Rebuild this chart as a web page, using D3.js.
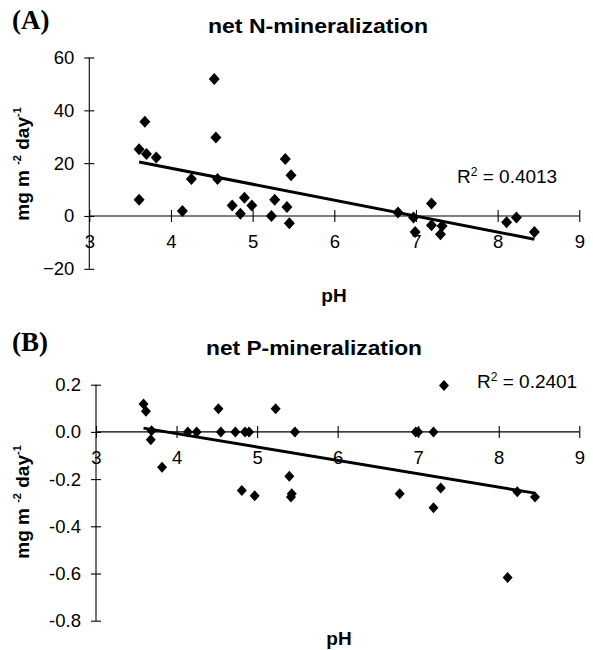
<!DOCTYPE html>
<html>
<head>
<meta charset="utf-8">
<script src="https://cdn.jsdelivr.net/npm/d3@7"></script>
<style>
  body { margin: 0; background: #fff; }
  svg text { font-family: "Liberation Sans", Arial, sans-serif; fill: #000; }
</style>
</head>
<body>
<svg id="chart" width="593" height="650"></svg>
<script>
/*********************
	Data
**********************/
// panel A : net N-mineralization (pH, mg m-2 day-1)
var n_ph  = [3.61, 3.68, 3.70, 3.82, 3.61, 4.14, 4.25, 4.53, 4.55, 4.57, 4.75, 4.85, 4.90, 4.99,
             5.23, 5.27, 5.40, 5.42, 5.45, 5.47, 6.78, 6.97, 6.99, 7.19, 7.19, 7.30, 7.32, 8.11, 8.23, 8.45];
var n_val = [25.3, 35.7, 23.5, 22.1, 6.1, 1.9, 14.0, 51.9, 29.7, 14.0, 4.0, 0.8, 6.9, 4.0,
             0.0, 6.1, 21.6, 3.4, -2.8, 15.4, 1.3, -0.6, -6.1, 4.7, -3.5, -6.9, -3.8, -2.4, -0.6, -6.1];
var n_ticks = [-20, 0, 20, 40, 60];

// panel B : net P-mineralization
var p_ph  = [3.59, 3.62, 3.69, 3.68, 3.82, 4.14, 4.25, 4.52, 4.55, 4.73, 4.85, 4.90, 5.23, 5.47,
             4.81, 4.97, 5.40, 5.43, 5.42, 7.32, 6.97, 7.00, 7.19, 6.77, 7.28, 7.19, 8.23, 8.45, 8.11];
var p_val = [0.118, 0.087, 0.005, -0.033, -0.150, 0.0, 0.0, 0.098, 0.0, 0.0, 0.0, 0.0, 0.098, 0.0,
             -0.248, -0.271, -0.188, -0.262, -0.276, 0.197, 0.0, 0.0, 0.0, -0.262, -0.238, -0.321, -0.254, -0.276, -0.617];
var p_ticks = [-0.8, -0.6, -0.4, -0.2, 0.0, 0.2];

var ph_ticks = [3, 4, 5, 6, 7, 8, 9];

/*********************
	Helpers
**********************/
var svg = d3.select("#chart");

function fitLine(xs, ys){
	// ordinary least squares
	var mx = d3.mean(xs), my = d3.mean(ys);
	var sxy = 0, sxx = 0;
	for (var i = 0; i < xs.length; i++){
		sxy += (xs[i]-mx)*(ys[i]-my);
		sxx += (xs[i]-mx)*(xs[i]-mx);
	}
	var b = sxy/sxx;
	return {slope: b, icpt: my - b*mx};
}

function diamond(w, h){
	return "M0," + (-h) + "L" + w + ",0L0," + h + "L" + (-w) + ",0Z";
}

function drawPanel(cfg){
	var x = d3.scaleLinear().domain([3, 9]).range(cfg.xr);
	var y = d3.scaleLinear().domain(cfg.yd).range(cfg.yr);
	var g = svg.append("g");

	// y axis
	var ya = g.append("g").attr("transform", "translate(" + x(3) + ",0)")
		.call(d3.axisLeft(y).tickValues(cfg.yticks).tickFormat(cfg.yfmt).tickSize(5).tickPadding(10));
	ya.selectAll(".tick line").attr("x1", 5);
	ya.select(".domain").attr("d", "M0," + y(cfg.yd[0]) + "V" + y(cfg.yd[1]));
	ya.selectAll("text").style("font-size", "18.5px").attr("font-family", null);

	// x axis at y = 0
	var xa = g.append("g").attr("transform", "translate(0," + y(0) + ")")
		.call(d3.axisBottom(x).tickValues(ph_ticks).tickFormat(d3.format("d")).tickSize(6).tickPadding(13));
	xa.selectAll(".tick line").attr("y1", -6);
	xa.select(".domain").attr("d", "M" + x(3) + ",0H" + x(9));
	xa.selectAll("text").style("font-size", "18.5px").attr("font-family", null);
	g.selectAll(".domain, .tick line").attr("stroke", "#000").attr("stroke-width", 1.1);

	// trend line
	var f = fitLine(cfg.xs, cfg.ys);
	var ext = d3.extent(cfg.xs);
	g.append("line")
		.attr("x1", x(ext[0])).attr("y1", y(f.icpt + f.slope*ext[0]))
		.attr("x2", x(ext[1])).attr("y2", y(f.icpt + f.slope*ext[1]))
		.attr("stroke", "#000").attr("stroke-width", 3);

	// points
	g.selectAll("path.pt").data(cfg.xs).enter().append("path")
		.attr("class", "pt")
		.attr("d", diamond(cfg.mw, cfg.mh))
		.attr("transform", function(d, i){ return "translate(" + x(d) + "," + y(cfg.ys[i]) + ")"; })
		.attr("fill", "#000");

	// titles
	svg.append("text").attr("x", 12).attr("y", cfg.top + 29)
		.style("font-family", "'Liberation Serif', 'Times New Roman', serif")
		.style("font-size", "27px").style("font-weight", "bold").text(cfg.tag);
	svg.append("text").attr("x", cfg.tx).attr("y", cfg.top + 33)
		.attr("textLength", cfg.tw).attr("lengthAdjust", "spacingAndGlyphs")
		.style("font-size", "20px").style("font-weight", "bold").text(cfg.title);
	svg.append("text").attr("x", cfg.phx).attr("y", cfg.phy).attr("text-anchor", "middle")
		.style("font-size", "19px").style("font-weight", "bold").text("pH");

	// y label
	var yl = svg.append("text")
		.attr("transform", "translate(" + cfg.ylx + "," + cfg.yly + ") rotate(-90)")
		.attr("text-anchor", "middle").style("font-size", "19px").style("font-weight", "bold");
	yl.append("tspan").text("mg m ");
	yl.append("tspan").attr("dy", -8).style("font-size", "11px").text("-2");
	yl.append("tspan").attr("dy", 8).text(" day");
	yl.append("tspan").attr("dy", -8).style("font-size", "11px").text("-1");

	// R squared
	var rt = svg.append("text").attr("x", cfg.rx).attr("y", cfg.ry).style("font-size", "19px");
	rt.append("tspan").text("R");
	rt.append("tspan").attr("dy", -7).style("font-size", "12px").text("2");
	rt.append("tspan").attr("dy", 7).text(" = " + cfg.r2);
}

/*********************
	Draw
**********************/
drawPanel({tag: "(A)", title: "net N-mineralization", top: 0, tx: 208, tw: 220,
	xs: n_ph, ys: n_val, yd: [-20, 60], yticks: n_ticks, yfmt: d3.format("d"),
	xr: [89.3, 579.3], yr: [268.8, 57.5], mw: 5.5, mh: 6,
	phx: 334, phy: 302, ylx: 29, yly: 164, rx: 457, ry: 183, r2: "0.4013"});

drawPanel({tag: "(B)", title: "net P-mineralization", top: 322, tx: 206, tw: 216,
	xs: p_ph, ys: p_val, yd: [-0.8, 0.2], yticks: p_ticks, yfmt: function(d){ return d.toFixed(1); },
	xr: [96, 579.3], yr: [620.7, 384.7], mw: 5, mh: 5.5,
	phx: 339, phy: 645, ylx: 29, yly: 502, rx: 477, ry: 388, r2: "0.2401"});
</script>
</body>
</html>
